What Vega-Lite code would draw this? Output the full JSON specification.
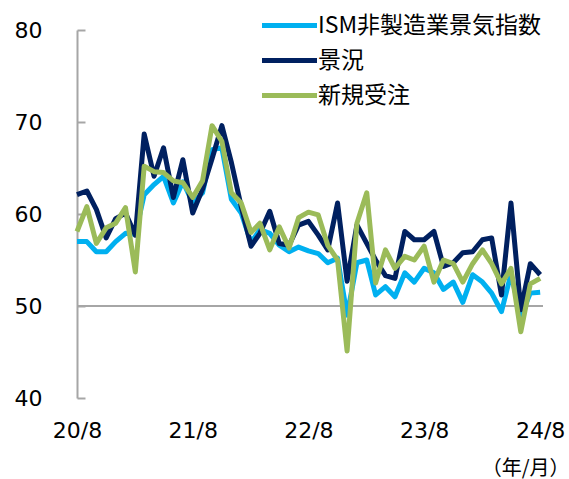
{
  "$schema": "https://vega.github.io/schema/vega-lite/v6.json",
  "width": 466,
  "height": 368,
  "autosize": {"type": "none"},
  "padding": {"left": 77, "top": 30, "right": 26, "bottom": 81},
  "background": "white",
  "config": {"view": {"stroke": null}, "font": "DejaVu Sans"},
  "data": {"values": [
    {"m":"2020/08/01","ism":57.0,"biz":62.1,"new":58.1},
    {"m":"2020/09/01","ism":57.0,"biz":62.5,"new":60.8},
    {"m":"2020/10/01","ism":55.9,"biz":60.5,"new":56.8},
    {"m":"2020/11/01","ism":55.9,"biz":57.4,"new":58.5},
    {"m":"2020/12/01","ism":57.0,"biz":59.5,"new":59.0},
    {"m":"2021/01/01","ism":57.9,"biz":60.1,"new":60.7},
    {"m":"2021/02/01","ism":57.8,"biz":57.7,"new":53.7},
    {"m":"2021/03/01","ism":62.1,"biz":68.7,"new":65.2},
    {"m":"2021/04/01","ism":63.2,"biz":64.1,"new":64.6},
    {"m":"2021/05/01","ism":64.1,"biz":67.2,"new":64.5},
    {"m":"2021/06/01","ism":61.2,"biz":61.8,"new":63.6},
    {"m":"2021/07/01","ism":63.5,"biz":65.9,"new":63.4},
    {"m":"2021/08/01","ism":61.2,"biz":60.1,"new":61.8},
    {"m":"2021/09/01","ism":62.3,"biz":62.7,"new":63.6},
    {"m":"2021/10/01","ism":67.0,"biz":66.0,"new":69.6},
    {"m":"2021/11/01","ism":67.2,"biz":69.6,"new":67.9},
    {"m":"2021/12/01","ism":61.6,"biz":65.6,"new":62.3},
    {"m":"2022/01/01","ism":60.1,"biz":60.8,"new":61.2},
    {"m":"2022/02/01","ism":56.9,"biz":56.5,"new":58.0},
    {"m":"2022/03/01","ism":58.3,"biz":57.9,"new":59.0},
    {"m":"2022/04/01","ism":57.9,"biz":60.3,"new":56.1},
    {"m":"2022/05/01","ism":56.6,"biz":56.8,"new":58.6},
    {"m":"2022/06/01","ism":55.9,"biz":56.6,"new":56.3},
    {"m":"2022/07/01","ism":56.4,"biz":58.8,"new":59.6},
    {"m":"2022/08/01","ism":56.0,"biz":59.2,"new":60.2},
    {"m":"2022/09/01","ism":55.7,"biz":57.7,"new":59.9},
    {"m":"2022/10/01","ism":54.7,"biz":56.1,"new":56.6},
    {"m":"2022/11/01","ism":55.2,"biz":61.2,"new":55.0},
    {"m":"2022/12/01","ism":49.0,"biz":52.7,"new":45.1},
    {"m":"2023/01/01","ism":54.7,"biz":58.8,"new":59.0},
    {"m":"2023/02/01","ism":55.0,"biz":56.8,"new":62.3},
    {"m":"2023/03/01","ism":51.2,"biz":55.0,"new":52.5},
    {"m":"2023/04/01","ism":52.1,"biz":53.3,"new":56.1},
    {"m":"2023/05/01","ism":51.0,"biz":53.0,"new":54.1},
    {"m":"2023/06/01","ism":53.6,"biz":58.1,"new":55.4},
    {"m":"2023/07/01","ism":52.6,"biz":57.2,"new":55.0},
    {"m":"2023/08/01","ism":54.1,"biz":57.2,"new":56.5},
    {"m":"2023/09/01","ism":53.6,"biz":58.1,"new":52.6},
    {"m":"2023/10/01","ism":51.8,"biz":54.3,"new":55.0},
    {"m":"2023/11/01","ism":52.6,"biz":54.7,"new":54.6},
    {"m":"2023/12/01","ism":50.4,"biz":55.8,"new":52.6},
    {"m":"2024/01/01","ism":53.4,"biz":55.9,"new":54.6},
    {"m":"2024/02/01","ism":52.6,"biz":57.2,"new":56.1},
    {"m":"2024/03/01","ism":51.4,"biz":57.4,"new":54.6},
    {"m":"2024/04/01","ism":49.4,"biz":51.2,"new":52.4},
    {"m":"2024/05/01","ism":53.5,"biz":61.2,"new":54.1},
    {"m":"2024/06/01","ism":48.9,"biz":49.6,"new":47.2},
    {"m":"2024/07/01","ism":51.4,"biz":54.6,"new":52.4},
    {"m":"2024/08/01","ism":51.5,"biz":53.4,"new":53.0}
  ]},
  "encoding": {
    "x": {
      "field": "m", "type": "temporal",
      "scale": {"domain": [{"year":2020,"month":8,"date":1},{"year":2024,"month":8,"date":10}]},
      "axis": {
        "values": [{"year":2020,"month":8,"date":1},{"year":2021,"month":8,"date":1},{"year":2022,"month":8,"date":1},{"year":2023,"month":8,"date":1},{"year":2024,"month":8,"date":1}],
        "labelExpr": "timeFormat(datum.value, '%y/%-m')",
        "domain": false, "ticks": false, "grid": false,
        "labelFont": "DejaVu Sans", "labelFontSize": 22, "labelColor": "#000000",
        "labelPadding": 22, "labelFlush": false, "labelOverlap": false,
        "title": "（年/月）",
        "titleFont": "Noto Sans CJK JP", "titleFontSize": 20, "titleFontWeight": "normal", "titleColor": "#000000",
        "titleAnchor": "end", "titleAlign": "right", "titleBaseline": "middle",
        "titleX": 492, "titleY": 70
      }
    }
  },
  "layer": [
    {
      "mark": {"type": "rule", "color": "#A6A6A6", "strokeWidth": 2},
      "encoding": {"y": {"datum": 50, "type": "quantitative", "scale": {"domain": [40, 80], "nice": false, "zero": false}}, "x": null}
    },
    {
      "mark": {"type": "line", "strokeWidth": 5, "strokeJoin": "round"},
      "encoding": {
        "y": {
          "field": "ism", "type": "quantitative",
          "scale": {"domain": [40, 80], "nice": false, "zero": false},
          "axis": {
            "values": [40, 50, 60, 70, 80],
            "grid": false, "title": null,
            "domainColor": "#A6A6A6", "domainWidth": 2,
            "tickColor": "#A6A6A6", "tickWidth": 2, "tickSize": -8,
            "labelFont": "DejaVu Sans", "labelFontSize": 22, "labelColor": "#000000",
            "labelPadding": 43
          }
        },
        "color": {
          "datum": "ISM非製造業景気指数",
          "scale": {"domain": ["ISM非製造業景気指数", "景況", "新規受注"], "range": ["#00B0F0", "#002060", "#9BBB59"]},
          "legend": {
            "title": null, "orient": "none", "legendX": 199, "legendY": -18,
            "symbolType": "M-2.5,0L2.5,0", "symbolSize": 484, "symbolStrokeWidth": 5, "symbolFillColor": "transparent",
            "labelFont": "Noto Sans CJK JP", "labelFontSize": 23, "labelColor": "#000000",
            "labelLimit": 400, "labelOffset": 15, "rowPadding": 9, "padding": 0
          }
        }
      }
    },
    {
      "mark": {"type": "line", "strokeWidth": 5, "strokeJoin": "round"},
      "encoding": {
        "y": {"field": "biz", "type": "quantitative", "scale": {"domain": [40, 80], "nice": false, "zero": false}},
        "color": {"datum": "景況"}
      }
    },
    {
      "mark": {"type": "line", "strokeWidth": 5, "strokeJoin": "round"},
      "encoding": {
        "y": {"field": "new", "type": "quantitative", "scale": {"domain": [40, 80], "nice": false, "zero": false}},
        "color": {"datum": "新規受注"}
      }
    }
  ]
}
